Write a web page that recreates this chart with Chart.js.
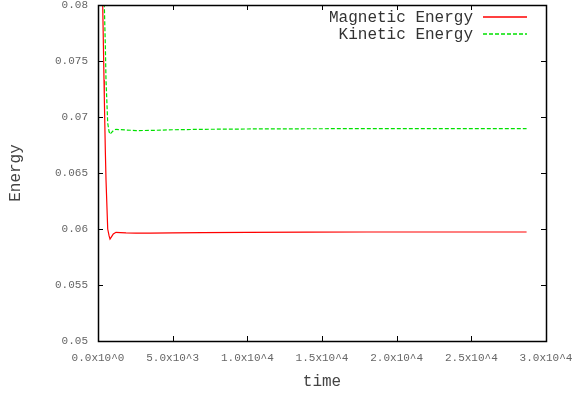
<!DOCTYPE html>
<html>
<head>
<meta charset="utf-8">
<script src="https://cdn.jsdelivr.net/npm/chart.js@4/dist/chart.umd.min.js"></script>
<style>
html,body{margin:0;padding:0;background:#fff;}
canvas{display:block;}
</style>
</head>
<body>
<canvas id="c" width="574" height="394" style="width:574px;height:394px"></canvas>
<script>
// time values (shared by both series)
const times = [0, 150, 315, 402, 422, 489, 536, 650, 740, 804, 900, 1025, 1205, 1500, 1875, 2544, 3500, 5000, 7000, 10000, 14000, 18000, 22000, 26000, 28700];
const magneticEnergy = [0.098, 0.089, 0.080, 0.0733, 0.0718, 0.0671, 0.0644, 0.0600, 0.0594, 0.0591, 0.0593, 0.05955, 0.0597, 0.05968, 0.05965, 0.05963, 0.05963, 0.05965, 0.05968, 0.0597, 0.05972, 0.05973, 0.05973, 0.05973, 0.05973];
const kineticEnergy = [0.108, 0.094, 0.0855, 0.0810, 0.0800, 0.0765, 0.0733, 0.06946, 0.0687, 0.06846, 0.0686, 0.06878, 0.0689, 0.06887, 0.06884, 0.06879, 0.0688, 0.06886, 0.0689, 0.06893, 0.06895, 0.06896, 0.06896, 0.06896, 0.06896];
const seriesLabels = ["Magnetic Energy", "Kinetic Energy"];
const xTicks = [0, 5000, 10000, 15000, 20000, 25000, 30000];
const yTicks = [0.05, 0.055, 0.06, 0.065, 0.07, 0.075, 0.08];

const FONT = "'Liberation Mono', 'Courier New', monospace";

function fmtX(v) {
  if (v === 0) return "0.0x10^0";
  const e = Math.floor(Math.log10(v) + 1e-9);
  const m = v / Math.pow(10, e);
  return m.toFixed(1) + "x10^" + e;
}
function fmtY(v) { return String(Number(v.toFixed(4))); }

function noPad(s) { s.paddingTop = 0; s.paddingBottom = 0; s.paddingLeft = 0; s.paddingRight = 0; }

const frame = {
  id: 'frame',
  afterDraw(chart) {
    const ctx = chart.ctx, a = chart.chartArea;
    const xs = chart.scales.x, ys = chart.scales.y;
    ctx.save();
    ctx.strokeStyle = '#000';
    ctx.lineWidth = 1;
    ctx.beginPath();
    const L = 5;
    xTicks.forEach(v => {
      const p = Math.round(xs.getPixelForValue(v)) + 0.5;
      ctx.moveTo(p, a.bottom); ctx.lineTo(p, a.bottom - L);
      ctx.moveTo(p, a.top); ctx.lineTo(p, a.top + L);
    });
    yTicks.forEach(v => {
      const p = Math.round(ys.getPixelForValue(v)) + 0.5;
      ctx.moveTo(a.left, p); ctx.lineTo(a.left + L, p);
      ctx.moveTo(a.right, p); ctx.lineTo(a.right - L, p);
    });
    ctx.stroke();
    ctx.lineWidth = 1.5;
    ctx.strokeRect(Math.round(a.left) + 0.5, Math.round(a.top) + 0.5, Math.round(a.right - a.left), Math.round(a.bottom - a.top));
    // key
    ctx.font = "16px " + FONT;
    ctx.textAlign = 'right';
    ctx.textBaseline = 'middle';
    chart.data.datasets.forEach((ds, i) => {
      const y = 18 + i * 16.5;
      ctx.fillStyle = '#333';
      ctx.fillText(ds.label, 473, y);
      ctx.beginPath();
      ctx.strokeStyle = ds.borderColor;
      ctx.lineWidth = 1.5;
      ctx.setLineDash(ds.borderDash || []);
      ctx.moveTo(483, Math.round(y) - 1);
      ctx.lineTo(527, Math.round(y) - 1);
      ctx.stroke();
      ctx.setLineDash([]);
    });
    ctx.restore();
  }
};

new Chart(document.getElementById('c'), {
  type: 'line',
  data: {
    datasets: [
      { label: seriesLabels[0], data: times.map((t, i) => ({x: t, y: magneticEnergy[i]})), borderColor: 'rgb(255,0,0)', borderWidth: 1.2, pointRadius: 0, tension: 0, fill: false },
      { label: seriesLabels[1], data: times.map((t, i) => ({x: t, y: kineticEnergy[i]})), borderColor: 'rgb(0,225,0)', borderWidth: 1.2, borderDash: [4, 2], pointRadius: 0, tension: 0, fill: false }
    ]
  },
  options: {
    responsive: false,
    devicePixelRatio: 1,
    animation: false,
    layout: { padding: { top: 5, right: 28, left: 0, bottom: 0 } },
    plugins: { legend: { display: false }, tooltip: { enabled: false } },
    scales: {
      x: {
        type: 'linear', min: 0, max: 30000,
        afterBuildTicks: s => { s.ticks = xTicks.map(v => ({value: v})); },
        afterFit: s => { s.height = 53; noPad(s); },
        grid: { display: false, drawTicks: false },
        border: { display: false },
        ticks: { callback: v => fmtX(v), color: '#666', font: { family: FONT, size: 11 }, padding: 10, maxRotation: 0, autoSkip: false },
        title: { display: true, text: 'time', color: '#444', font: { family: FONT, size: 16 }, padding: { top: 0, bottom: 3 } }
      },
      y: {
        type: 'linear', min: 0.05, max: 0.08,
        afterBuildTicks: s => { s.ticks = yTicks.map(v => ({value: v})); },
        afterFit: s => { s.width = 98; noPad(s); },
        grid: { display: false, drawTicks: false },
        border: { display: false },
        ticks: { callback: v => fmtY(v), color: '#666', font: { family: FONT, size: 11 }, padding: 10, autoSkip: false },
        title: { display: true, text: 'Energy', color: '#444', font: { family: FONT, size: 16 }, padding: { top: 6, bottom: 0 } }
      }
    }
  },
  plugins: [frame]
});
</script>
</body>
</html>
